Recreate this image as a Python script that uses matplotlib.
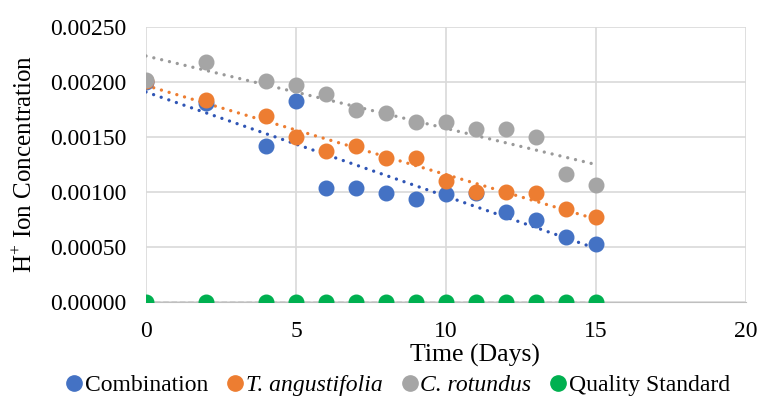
import numpy as np
import matplotlib
matplotlib.use("Agg")
import matplotlib.pyplot as plt
from matplotlib.lines import Line2D

days = [0, 2, 4, 5, 6, 7, 8, 9, 10, 11, 12, 13, 14, 15]
combination = [0.00200, 0.00181, 0.00142, 0.00183, 0.00104, 0.00104, 0.00099, 0.00094,
               0.00098, 0.00099, 0.00082, 0.00075, 0.00059, 0.00053]
t_angustifolia = [0.00201, 0.00184, 0.00169, 0.00150, 0.00137, 0.00142, 0.00131, 0.00131,
                  0.00110, 0.00100, 0.00100, 0.00099, 0.00085, 0.00077]
c_rotundus = [0.00202, 0.00218, 0.00201, 0.00197, 0.00189, 0.00175, 0.00172, 0.00164,
              0.00164, 0.00157, 0.00157, 0.00150, 0.00116, 0.00106]
quality_standard = [0.0] * 14

series_names = ["Combination", "T. angustifolia", "C. rotundus", "Quality Standard"]
colors = ["#4472C4", "#ED7D31", "#A5A5A5", "#00B050"]
trend_colors = ["#2F55B5", "#ED7D31", "#9A9A9A", "#909090"]

plt.rcParams['font.family'] = ['Liberation Serif', 'DejaVu Serif']
plt.rcParams['mathtext.fontset'] = 'custom'
plt.rcParams['mathtext.rm'] = 'Liberation Serif'

fig = plt.figure(figsize=(7.58, 3.96), dpi=100)
ax = fig.add_axes([146/758, 1 - 302/396, 600/758, 275/396])

x = np.array(days, dtype=float)
data = [combination, t_angustifolia, c_rotundus, quality_standard]

# trendlines first
for ys, tc, name in zip(data, trend_colors, series_names):
    ys = np.array(ys)
    k, b = np.polyfit(x, ys, 1)
    xx = np.array([0, 15])
    if name == "Quality Standard":
        ax.plot(xx, k*xx + b, color=tc, lw=1.0, ls=(0, (4, 2)), zorder=2)
    else:
        ax.plot(xx, k*xx + b, color=tc, lw=2.4, ls=(0, (0.01, 2.4)),
                dash_capstyle='round', zorder=2)

for ys, c in zip(data, colors):
    ax.plot(x, ys, 'o', color=c, ms=10.5, mec=c, zorder=3)

ax.set_xlim(0, 20)
ax.set_ylim(0, 0.0025)
ax.set_xticks([0, 5, 10, 15, 20])
ax.set_yticks(np.arange(0, 0.00251, 0.0005))
ax.yaxis.set_major_formatter(matplotlib.ticker.FormatStrFormatter('%.5f'))
ax.grid(True, color='#D9D9D9', lw=1.2)
ax.set_axisbelow(True)
for s in ['top', 'right', 'left']:
    ax.spines[s].set_visible(False)
ax.spines['bottom'].set_color('#BFBFBF')
ax.tick_params(length=0, labelsize=17)
ax.tick_params(axis='y', pad=14)
ax.tick_params(axis='x', pad=13.5)

ax.set_xlabel("Time (Days)", fontsize=18.5)
ax.xaxis.set_label_coords((475 - 146) / 600, (302 - 344) / 275)
ax.set_ylabel("H$^{+}$ Ion Concentration", fontsize=18)
ax.yaxis.set_label_coords((37 - 146) / 600, 0.5)

handles = [Line2D([], [], marker='o', ls='', color=c, ms=11) for c in colors]
leg = fig.legend(handles, series_names, loc='center', bbox_to_anchor=(395/758, 1 - 385/396),
                 ncol=4, frameon=False, fontsize=17, handletextpad=-0.15,
                 columnspacing=0.55, handlelength=1.2, borderpad=0)
leg.get_texts()[1].set_fontstyle('italic')
leg.get_texts()[2].set_fontstyle('italic')

fig.savefig("out.png", dpi=100)
